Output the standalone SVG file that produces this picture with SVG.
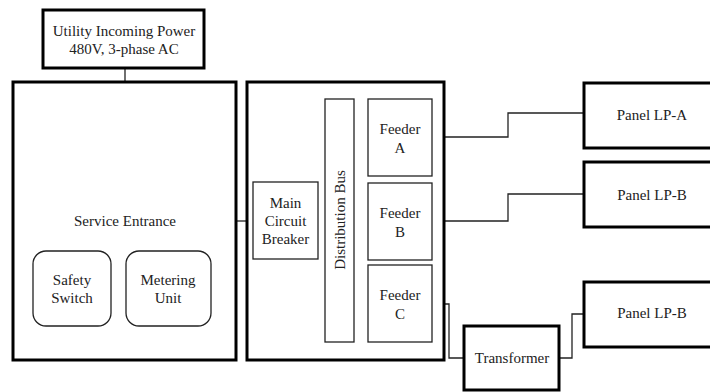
<svg xmlns="http://www.w3.org/2000/svg" width="710" height="392" viewBox="0 0 710 392" font-family="'Liberation Serif', 'Times New Roman', serif">
<style>
text{font-family:'Liberation Serif','Times New Roman',serif;font-size:15px;fill:#222;text-anchor:middle;dominant-baseline:central}
.thick{fill:#fff;stroke:#000;stroke-width:3}
.thin{fill:#fff;stroke:#222;stroke-width:1.3}
.conn{fill:none;stroke:#222;stroke-width:1.3}
</style>
<rect width="710" height="392" fill="#fff"/>
<g id="connectors">
<path class="conn" d="M125,68 V82"/>
<path class="conn" d="M236,221 H247"/>
<path class="conn" d="M432,137 H508 V113 H584"/>
<path class="conn" d="M432,221 H508 V194 H584"/>
<path class="conn" d="M432,304 H449 V358 H464"/>
<path class="conn" d="M559,358 H572 V314 H584"/>
</g>
<g id="utility">
<rect class="thick" x="43" y="10" width="161" height="58"/>
<text x="124" y="31">Utility Incoming Power</text>
<text x="124" y="49">480V, 3-phase AC</text>
</g>
<g id="service-entrance">
<rect class="thick" x="13" y="82" width="223" height="278"/>
<text x="125" y="221">Service Entrance</text>
</g>
<g id="safety-switch">
<rect class="thin" x="33" y="251" width="78" height="75" rx="13"/>
<text x="72" y="280">Safety</text>
<text x="72" y="298">Switch</text>
</g>
<g id="metering-unit">
<rect class="thin" x="126" y="251" width="85" height="75" rx="13"/>
<text x="168" y="280">Metering</text>
<text x="168" y="298">Unit</text>
</g>
<g id="distribution">
<rect class="thick" x="247" y="82" width="197" height="278"/>
</g>
<g id="main-breaker">
<rect class="thin" x="253" y="182" width="65" height="77"/>
<text x="285.5" y="203">Main</text>
<text x="285.5" y="221">Circuit</text>
<text x="285.5" y="239">Breaker</text>
</g>
<g id="distribution-bus">
<rect class="thin" x="325" y="99" width="29" height="243"/>
<text transform="translate(339.5,220) rotate(-90)" x="0" y="0">Distribution Bus</text>
</g>
<g id="feeder-a">
<rect class="thin" x="368" y="99" width="64" height="77"/>
<text x="400" y="129">Feeder</text>
<text x="400" y="148">A</text>
</g>
<g id="feeder-b">
<rect class="thin" x="368" y="183" width="64" height="77"/>
<text x="400" y="213">Feeder</text>
<text x="400" y="232">B</text>
</g>
<g id="feeder-c">
<rect class="thin" x="368" y="265" width="64" height="77"/>
<text x="400" y="295">Feeder</text>
<text x="400" y="314">C</text>
</g>
<g id="panel-lp-a">
<rect class="thick" x="584" y="83" width="136" height="65"/>
<text x="652" y="115">Panel LP-A</text>
</g>
<g id="panel-lp-b">
<rect class="thick" x="584" y="162" width="136" height="65"/>
<text x="652" y="195">Panel LP-B</text>
</g>
<g id="panel-lp-b2">
<rect class="thick" x="584" y="282" width="136" height="65"/>
<text x="652" y="313">Panel LP-B</text>
</g>
<g id="transformer">
<rect class="thick" x="464" y="326" width="95" height="64"/>
<text x="512" y="358">Transformer</text>
</g>
</svg>
